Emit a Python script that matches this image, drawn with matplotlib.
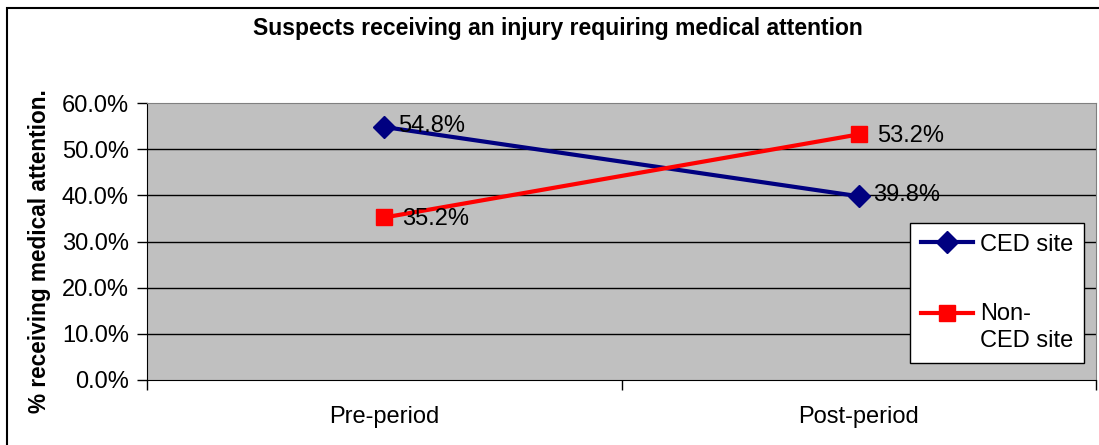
import matplotlib
matplotlib.use("Agg")
import matplotlib.pyplot as plt
from matplotlib.patches import Rectangle
from matplotlib.legend_handler import HandlerLine2D

# values
periods = ["Pre-period", "Post-period"]
ced_site = [54.8, 39.8]
non_ced_site = [35.2, 53.2]
y_ticks = [0, 10, 20, 30, 40, 50, 60]

plt.rcParams['font.family'] = ['Liberation Sans', 'DejaVu Sans']

W, H = 1099, 445
fig = plt.figure(figsize=(W/100., H/100.), dpi=100)
fig.patch.set_facecolor('white')

# plot area in pixel terms of the reference
x0, x1, yt, yb = 147, 1096, 103, 380
ax = fig.add_axes([x0/W, 1-yb/H, (x1-x0)/W, (yb-yt)/H])
ax.set_facecolor('#c0c0c0')

xs = list(range(len(periods)))
ax.plot(xs, ced_site, color='#000080', lw=3, marker='D', ms=11, label='CED site', zorder=3)
ax.plot(xs, non_ced_site, color='#ff0000', lw=3, marker='s', ms=12, label='Non-\nCED site', zorder=3)

for x, v in zip(xs, ced_site):
    ax.annotate('%.1f%%' % v, (x, v), xytext=(10, 1), textcoords='offset points',
                ha='left', va='center', fontsize=17, zorder=4)
for x, v in zip(xs, non_ced_site):
    ax.annotate('%.1f%%' % v, (x, v), xytext=(13, -1), textcoords='offset points',
                ha='left', va='center', fontsize=17, zorder=4)

ax.set_xlim(-0.5, len(periods)-0.5)
ax.set_ylim(0, 60)
ax.set_yticks(y_ticks)
ax.set_yticklabels(['%.1f%%' % t for t in y_ticks], fontsize=17)
for t in y_ticks[1:-1]:
    ax.axhline(t, color='black', lw=1, zorder=1)

ax.set_xticks([i - 0.5 for i in range(len(periods)+1)])
ax.set_xticklabels([])
ax.set_xticks(xs, minor=True)
ax.set_xticklabels(periods, minor=True, fontsize=17)
ax.tick_params(axis='x', which='minor', length=0, pad=19)
ax.tick_params(axis='x', which='major', length=7, direction='out', width=1)
ax.tick_params(axis='y', length=7, direction='out', width=1, pad=6)

for s in ['top', 'right']:
    ax.spines[s].set_color('#808080')
for s in ['left', 'bottom']:
    ax.spines[s].set_color('black')


# legend handle lined up with the first line of a two line label
class TopHandler(HandlerLine2D):
    def create_artists(self, legend, orig_handle, xdescent, ydescent, width, height, fontsize, trans):
        return HandlerLine2D.create_artists(self, legend, orig_handle, xdescent, ydescent - 21.5,
                                            width, height, fontsize, trans)

lines = ax.get_lines()
leg = ax.legend(loc='upper left', bbox_to_anchor=((910-x0)/(x1-x0), 1-(223-yt)/(yb-yt)),
                fontsize=17, frameon=True, fancybox=False, edgecolor='black',
                framealpha=1, borderpad=0.45, labelspacing=2.0, handlelength=2.2,
                handletextpad=0.3, borderaxespad=0,
                handler_map={lines[1]: TopHandler()})
leg.get_frame().set_linewidth(1)
for t in leg.get_texts():
    t.set_linespacing(1.3)

fig.text(558/W, 1-28/H, 'Suspects receiving an injury requiring medical attention',
         ha='center', va='center', fontsize=16.5, fontweight='bold')
fig.text(40/W, 1-251/H, '% receiving medical attention.', ha='center', va='center',
         rotation=90, fontsize=16.3, fontweight='bold')

# outer chart border
fig.patches.append(Rectangle((7/W, -0.1), 1.2, 1.1-8/H, transform=fig.transFigure,
                             fill=False, edgecolor='black', lw=1.5))

fig.savefig('out.png', dpi=100)
